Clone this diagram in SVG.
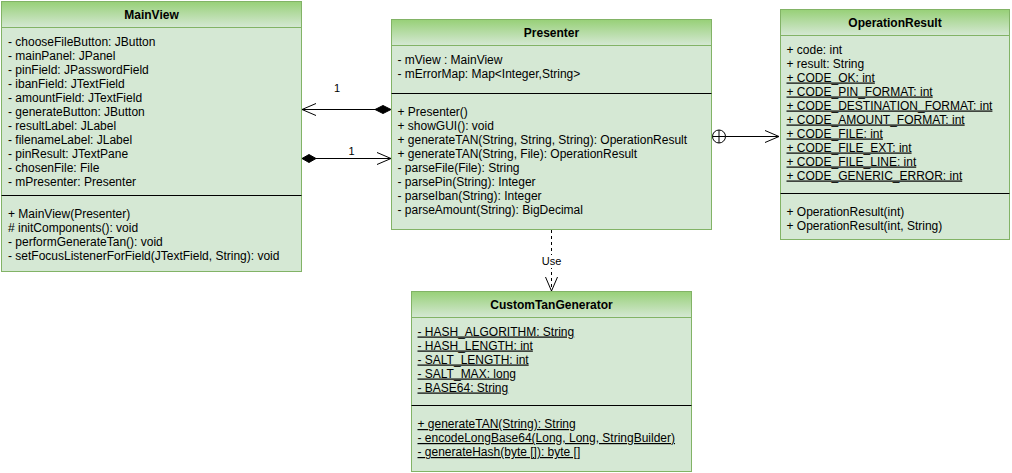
<svg xmlns="http://www.w3.org/2000/svg" width="1012" height="473" viewBox="0 0 1012 473">
<defs>
<linearGradient id="hdr" x1="0" y1="0" x2="0" y2="1">
<stop offset="0" stop-color="#97d077"/>
<stop offset="1" stop-color="#d5e8d4"/>
</linearGradient>
<marker id="open" viewBox="0 0 16 14" refX="15" refY="7" markerWidth="16" markerHeight="14" markerUnits="userSpaceOnUse" orient="auto">
<path d="M1,1 L15,7 L1,13" fill="none" stroke="#000" stroke-width="1"/>
</marker>
</defs>
<style>
.body{fill:#d5e8d4;stroke:#82b366;stroke-width:1}
.head{fill:url(#hdr);stroke:#82b366;stroke-width:1}
.div{stroke:#000;stroke-width:1}
text{font-family:"Liberation Sans",Arial,sans-serif;font-size:12px;fill:#000}
.title{font-weight:bold;font-size:12px;text-anchor:middle}
.u{text-decoration:underline}
.lbl{font-size:11px;text-anchor:middle}
.edge{fill:none;stroke:#000;stroke-width:1}
</style>

<g id="connectors">
<line class="edge" x1="376" y1="109.5" x2="302" y2="109.5" marker-end="url(#open)"/>
<path d="M391,109.5 L383,105.5 L375,109.5 L383,113.5 Z" fill="#000" stroke="#000"/>
<text class="lbl" x="337" y="92">1</text>
<line class="edge" x1="316" y1="158.5" x2="391" y2="158.5" marker-end="url(#open)"/>
<path d="M302,158.5 L309,154.5 L316,158.5 L309,162.5 Z" fill="#000" stroke="#000"/>
<text class="lbl" x="351.5" y="154.5">1</text>
<circle cx="719" cy="136.5" r="6.5" fill="none" stroke="#000"/>
<line x1="712.5" y1="136.5" x2="725.5" y2="136.5" stroke="#000"/>
<line x1="719" y1="130" x2="719" y2="143" stroke="#000"/>
<line class="edge" x1="725.5" y1="136.5" x2="779" y2="136.5" marker-end="url(#open)"/>
<line class="edge" x1="551.5" y1="230" x2="551.5" y2="291" stroke-dasharray="3,3" marker-end="url(#open)"/>
<rect x="538" y="255" width="27" height="13" fill="#fff"/>
<text class="lbl" x="551.5" y="265">Use</text>
</g>

<g id="MainView">
<rect class="body" x="1.5" y="1.5" width="300" height="270"/>
<rect class="head" x="1.5" y="1.5" width="300" height="26"/>
<text class="title" x="151.5" y="19">MainView</text>
<text x="8" y="46">- chooseFileButton: JButton</text>
<text x="8" y="60">- mainPanel: JPanel</text>
<text x="8" y="74">- pinField: JPasswordField</text>
<text x="8" y="88">- ibanField: JTextField</text>
<text x="8" y="102">- amountField: JTextField</text>
<text x="8" y="116">- generateButton: JButton</text>
<text x="8" y="130">- resultLabel: JLabel</text>
<text x="8" y="144">- filenameLabel: JLabel</text>
<text x="8" y="158">- pinResult: JTextPane</text>
<text x="8" y="172">- chosenFile: File</text>
<text x="8" y="186">- mPresenter: Presenter</text>
<line class="div" x1="1.5" y1="195.5" x2="301.5" y2="195.5"/>
<text x="8" y="217.5">+ MainView(Presenter)</text>
<text x="8" y="231.5"># initComponents(): void</text>
<text x="8" y="245.5">- performGenerateTan(): void</text>
<text x="8" y="259.5">- setFocusListenerForField(JTextField, String): void</text>
</g>

<g id="Presenter">
<rect class="body" x="391.5" y="19.5" width="320" height="210"/>
<rect class="head" x="391.5" y="19.5" width="320" height="26"/>
<text class="title" x="551.5" y="37">Presenter</text>
<text x="397.5" y="64">- mView : MainView</text>
<text x="397.5" y="78">- mErrorMap: Map&lt;Integer,String&gt;</text>
<line class="div" x1="391.5" y1="93.5" x2="711.5" y2="93.5"/>
<text x="397.5" y="115.5">+ Presenter()</text>
<text x="397.5" y="129.5">+ showGUI(): void</text>
<text x="397.5" y="143.5">+ generateTAN(String, String, String): OperationResult</text>
<text x="397.5" y="157.5">+ generateTAN(String, File): OperationResult</text>
<text x="397.5" y="171.5">- parseFile(File): String</text>
<text x="397.5" y="185.5">- parsePin(String): Integer</text>
<text x="397.5" y="199.5">- parseIban(String): Integer</text>
<text x="397.5" y="213.5">- parseAmount(String): BigDecimal</text>
</g>

<g id="OperationResult">
<rect class="body" x="780.5" y="9.5" width="229" height="230"/>
<rect class="head" x="780.5" y="9.5" width="229" height="26"/>
<text class="title" x="895" y="27">OperationResult</text>
<text x="786.5" y="53.5">+ code: int</text>
<text x="786.5" y="67.5">+ result: String</text>
<text class="u" x="786.5" y="81.5">+ CODE_OK: int</text>
<text class="u" x="786.5" y="95.5">+ CODE_PIN_FORMAT: int</text>
<text class="u" x="786.5" y="109.5">+ CODE_DESTINATION_FORMAT: int</text>
<text class="u" x="786.5" y="123.5">+ CODE_AMOUNT_FORMAT: int</text>
<text class="u" x="786.5" y="137.5">+ CODE_FILE: int</text>
<text class="u" x="786.5" y="151.5">+ CODE_FILE_EXT: int</text>
<text class="u" x="786.5" y="165.5">+ CODE_FILE_LINE: int</text>
<text class="u" x="786.5" y="179.5">+ CODE_GENERIC_ERROR: int</text>
<line class="div" x1="780.5" y1="193.5" x2="1009.5" y2="193.5"/>
<text x="786.5" y="215.5">+ OperationResult(int)</text>
<text x="786.5" y="229.5">+ OperationResult(int, String)</text>
</g>

<g id="CustomTanGenerator">
<rect class="body" x="411.5" y="291.5" width="280" height="180"/>
<rect class="head" x="411.5" y="291.5" width="280" height="26"/>
<text class="title" x="551.5" y="309">CustomTanGenerator</text>
<text class="u" x="417.5" y="335.5">- HASH_ALGORITHM: String</text>
<text class="u" x="417.5" y="349.5">- HASH_LENGTH: int</text>
<text class="u" x="417.5" y="363.5">- SALT_LENGTH: int</text>
<text class="u" x="417.5" y="377.5">- SALT_MAX: long</text>
<text class="u" x="417.5" y="391.5">- BASE64: String</text>
<line class="div" x1="411.5" y1="405.5" x2="691.5" y2="405.5"/>
<text class="u" x="417.5" y="428">+ generateTAN(String): String</text>
<text class="u" x="417.5" y="442">- encodeLongBase64(Long, Long, StringBuilder)</text>
<text class="u" x="417.5" y="456">- generateHash(byte []): byte []</text>
</g>
</svg>
